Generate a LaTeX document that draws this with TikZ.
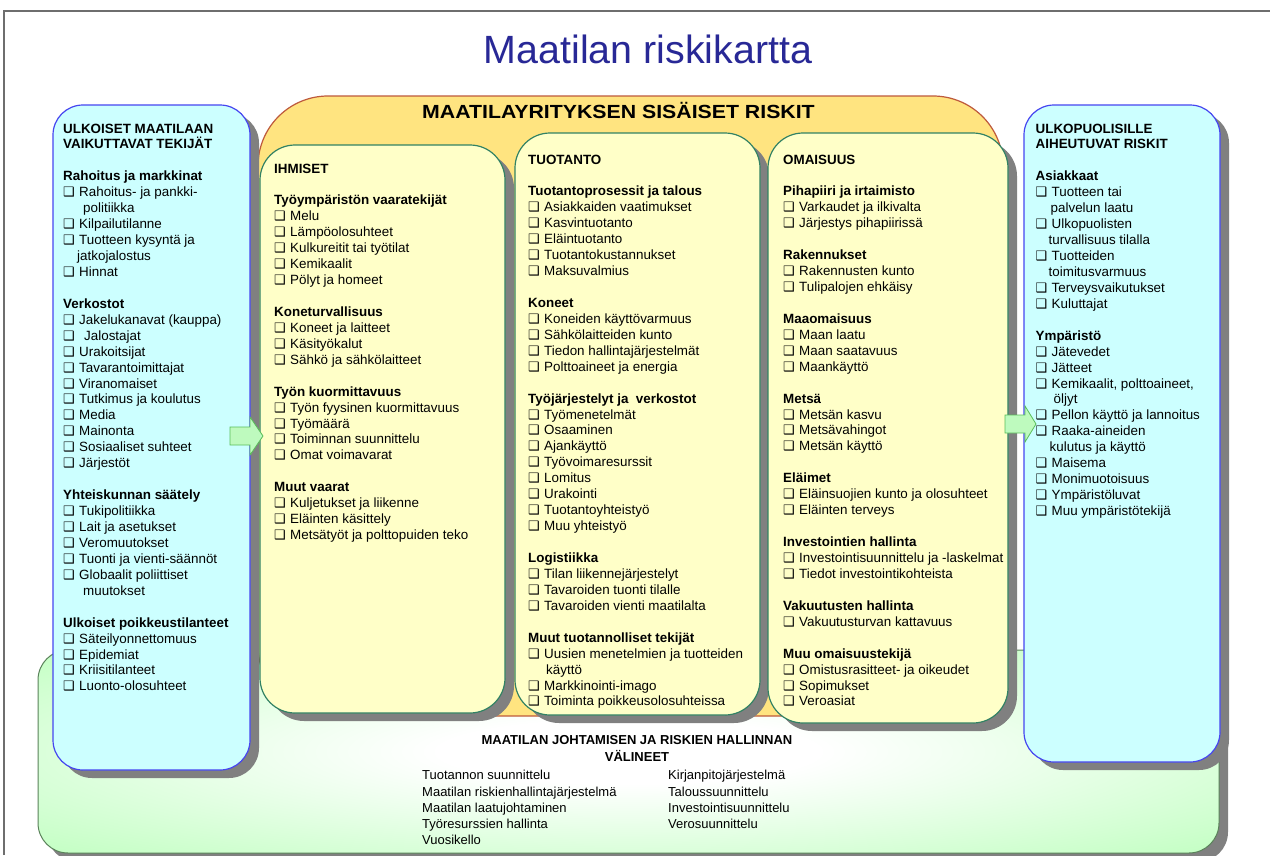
\documentclass[tikz,border=0pt]{standalone}
\usepackage{fontspec}
\usepackage{graphicx}
\setmainfont{Liberation Sans}
\newfontfamily\dejavu{DejaVu Sans}
\definecolor{framegray}{RGB}{110,110,110}
\definecolor{titleblue}{RGB}{40,40,150}
\definecolor{cyanfill}{RGB}{204,255,255}
\definecolor{cyanline}{RGB}{70,70,240}
\definecolor{shadowgray}{RGB}{128,128,128}
\definecolor{orangefill}{RGB}{255,228,128}
\definecolor{orangeline}{RGB}{190,90,60}
\definecolor{yellowfill}{RGB}{255,255,200}
\definecolor{yellowline}{RGB}{50,130,100}
\definecolor{greenfill}{RGB}{185,255,185}
\definecolor{greenline}{RGB}{90,130,90}
\definecolor{arrowfill}{RGB}{190,250,190}
\definecolor{arrowline}{RGB}{90,190,90}
\pgfdeclareradialshading{greenglow}{\pgfpoint{0bp}{0bp}}{color(0bp)=(white); color(8bp)=(white); color(40bp)=(greenfill); color(50bp)=(greenfill)}
\newcommand{\cb}{\makebox[16pt][l]{\dejavu\fontsize{13}{13}\selectfont ❑}}
\newcommand{\hd}[1]{\textbf{#1}}
\newcommand{\ind}[1]{\hspace*{#1pt}}
\newcommand{\fs}{\rule{0pt}{13pt}}
\begin{document}
\begin{tikzpicture}[x=1pt,y=-1pt,
  frameline/.style={draw=framegray, line width=1.6pt},
  shadowshape/.style={fill=shadowgray, draw=none},
  cyanbox/.style={fill=cyanfill, draw=cyanline, line width=1.2pt, rounded corners=30pt},
  yellowbox/.style={fill=yellowfill, draw=yellowline, line width=1.2pt, rounded corners=35pt},
  blockarrow/.style={fill=arrowfill, draw=arrowline, line width=0.8pt},
  txt/.style={anchor=north west, inner sep=0pt, align=left, font=\fontsize{13.4}{15.94}\selectfont},
  btxt/.style={anchor=north west, inner sep=0pt, align=left, font=\fontsize{13}{16.2}\selectfont},
]
\useasboundingbox (0,0) rectangle (1270,855);
\fill[white] (0,0) rectangle (1270,855);
\draw[frameline] (4,855) -- (4,11) -- (1270,11);

% title
\node[anchor=base, inner sep=0pt, text=titleblue, font=\fontsize{39.4}{44}\selectfont] (title) at (648,63) {Maatilan riskikartta};

% bottom green area
\fill[shadowgray, rounded corners=30pt] (47,658) rectangle (1228,862);
\shade[shading=greenglow, draw=greenline, line width=1pt, rounded corners=30pt] (38,650) rectangle (1219,853);

% orange container
\draw[fill=orangefill, draw=orangeline, line width=1.2pt, rounded corners=70pt] (258,96) rectangle (1003,716);
\node[anchor=base west, inner sep=0pt, font=\fontsize{19}{22}\selectfont\bfseries] (inner) at (422,118.5) {\scalebox{1.12}[1]{MAATILAYRITYKSEN SISÄISET RISKIT}};

% cyan boxes
\fill[shadowgray, rounded corners=30pt] (62,113) rectangle (259,778);
\draw[cyanbox] (53,105) rectangle (250,770);
\fill[shadowgray, rounded corners=30pt] (1033,113) rectangle (1229,770);
\draw[cyanbox] (1024,105) rectangle (1220,762);

% yellow boxes
\fill[shadowgray, rounded corners=35pt] (269,153) rectangle (514,721);
\draw[yellowbox] (260,145) rectangle (505,713);
\fill[shadowgray, rounded corners=35pt] (524,141) rectangle (769,723);
\draw[yellowbox] (515,133) rectangle (760,715);
\fill[shadowgray, rounded corners=35pt] (777,141) rectangle (1017,731);
\draw[yellowbox] (768,133) rectangle (1008,723);

% block arrows
\draw[blockarrow] (230,427) -- (250,427) -- (250,417) -- (263,436) -- (250,455) -- (250,445) -- (230,445) -- cycle;
\draw[blockarrow] (1005,415) -- (1025,415) -- (1025,406) -- (1036,424) -- (1025,442) -- (1025,433) -- (1005,433) -- cycle;

% left box text
\node[txt] (ltext) at (63,119.8) {\fs\hd{ULKOISET MAATILAAN}\\
\hd{VAIKUTTAVAT TEKIJÄT}\\[15.94pt]
\hd{Rahoitus ja markkinat}\\
\cb Rahoitus- ja pankki-\\
\ind{20}politiikka\\
\cb Kilpailutilanne\\
\cb Tuotteen kysyntä ja\\
\ind{14}jatkojalostus\\
\cb Hinnat\\[15.94pt]
\hd{Verkostot}\\
\cb Jakelukanavat (kauppa)\\
\cb\ind{5}Jalostajat\\
\cb Urakoitsijat\\
\cb Tavarantoimittajat\\
\cb Viranomaiset\\
\cb Tutkimus ja koulutus\\
\cb Media\\
\cb Mainonta\\
\cb Sosiaaliset suhteet\\
\cb Järjestöt\\[15.94pt]
\hd{Yhteiskunnan säätely}\\
\cb Tukipolitiikka\\
\cb Lait ja asetukset\\
\cb Veromuutokset\\
\cb Tuonti ja vienti-säännöt\\
\cb Globaalit poliittiset\\
\ind{20}muutokset\\[15.94pt]
\hd{Ulkoiset poikkeustilanteet}\\
\cb Säteilyonnettomuus\\
\cb Epidemiat\\
\cb Kriisitilanteet\\
\cb Luonto-olosuhteet};

% IHMISET
\node[txt] (ihmiset) at (274,159.8) {\fs\hd{IHMISET}\\[15.94pt]
\hd{Työympäristön vaaratekijät}\\
\cb Melu\\
\cb Lämpöolosuhteet\\
\cb Kulkureitit tai työtilat\\
\cb Kemikaalit\\
\cb Pölyt ja homeet\\[15.94pt]
\hd{Koneturvallisuus}\\
\cb Koneet ja laitteet\\
\cb Käsityökalut\\
\cb Sähkö ja sähkölaitteet\\[15.94pt]
\hd{Työn kuormittavuus}\\
\cb Työn fyysinen kuormittavuus\\
\cb Työmäärä\\
\cb Toiminnan suunnittelu\\
\cb Omat voimavarat\\[15.94pt]
\hd{Muut vaarat}\\
\cb Kuljetukset ja liikenne\\
\cb Eläinten käsittely\\
\cb Metsätyöt ja polttopuiden teko};

% TUOTANTO
\node[txt] (tuotanto) at (528,150.8) {\fs\hd{TUOTANTO}\\[15.94pt]
\hd{Tuotantoprosessit ja talous}\\
\cb Asiakkaiden vaatimukset\\
\cb Kasvintuotanto\\
\cb Eläintuotanto\\
\cb Tuotantokustannukset\\
\cb Maksuvalmius\\[15.94pt]
\hd{Koneet}\\
\cb Koneiden käyttövarmuus\\
\cb Sähkölaitteiden kunto\\
\cb Tiedon hallintajärjestelmät\\
\cb Polttoaineet ja energia\\[15.94pt]
\hd{Työjärjestelyt ja \ verkostot}\\
\cb Työmenetelmät\\
\cb Osaaminen\\
\cb Ajankäyttö\\
\cb Työvoimaresurssit\\
\cb Lomitus\\
\cb Urakointi\\
\cb Tuotantoyhteistyö\\
\cb Muu yhteistyö\\[15.94pt]
\hd{Logistiikka}\\
\cb Tilan liikennejärjestelyt\\
\cb Tavaroiden tuonti tilalle\\
\cb Tavaroiden vienti maatilalta\\[15.94pt]
\hd{Muut tuotannolliset tekijät}\\
\cb Uusien menetelmien ja tuotteiden\\
\ind{18}käyttö\\
\cb Markkinointi-imago\\
\cb Toiminta poikkeusolosuhteissa};

% OMAISUUS
\node[txt] (omaisuus) at (783,150.8) {\fs\hd{OMAISUUS}\\[15.94pt]
\hd{Pihapiiri ja irtaimisto}\\
\cb Varkaudet ja ilkivalta\\
\cb Järjestys pihapiirissä\\[15.94pt]
\hd{Rakennukset}\\
\cb Rakennusten kunto\\
\cb Tulipalojen ehkäisy\\[15.94pt]
\hd{Maaomaisuus}\\
\cb Maan laatu\\
\cb Maan saatavuus\\
\cb Maankäyttö\\[15.94pt]
\hd{Metsä}\\
\cb Metsän kasvu\\
\cb Metsävahingot\\
\cb Metsän käyttö\\[15.94pt]
\hd{Eläimet}\\
\cb Eläinsuojien kunto ja olosuhteet\\
\cb Eläinten terveys\\[15.94pt]
\hd{Investointien hallinta}\\
\cb Investointisuunnittelu ja -laskelmat\\
\cb Tiedot investointikohteista\\[15.94pt]
\hd{Vakuutusten hallinta}\\
\cb Vakuutusturvan kattavuus\\[15.94pt]
\hd{Muu omaisuustekijä}\\
\cb Omistusrasitteet- ja oikeudet\\
\cb Sopimukset\\
\cb Veroasiat};

% right box text
\node[txt] (rtext) at (1035.5,119.8) {\fs\hd{ULKOPUOLISILLE}\\
\hd{AIHEUTUVAT RISKIT}\\[15.94pt]
\hd{Asiakkaat}\\
\cb Tuotteen tai\\
\ind{15}palvelun laatu\\
\cb Ulkopuolisten\\
\ind{13}turvallisuus tilalla\\
\cb Tuotteiden\\
\ind{13}toimitusvarmuus\\
\cb Terveysvaikutukset\\
\cb Kuluttajat\\[15.94pt]
\hd{Ympäristö}\\
\cb Jätevedet\\
\cb Jätteet\\
\cb Kemikaalit, polttoaineet,\\
\ind{18}öljyt\\
\cb Pellon käyttö ja lannoitus\\
\cb Raaka-aineiden\\
\ind{14}kulutus ja käyttö\\
\cb Maisema\\
\cb Monimuotoisuus\\
\cb Ympäristöluvat\\
\cb Muu ympäristötekijä};

% bottom texts
\node[anchor=north, inner sep=0pt, align=center, font=\fontsize{13}{17}\selectfont\bfseries] (btitle) at (637,731.6) {\fs MAATILAN JOHTAMISEN JA RISKIEN HALLINNAN\\VÄLINEET};
\node[btxt] (bleft) at (422,766.6) {\fs Tuotannon suunnittelu\\
Maatilan riskienhallintajärjestelmä\\
Maatilan laatujohtaminen\\
Työresurssien hallinta\\
Vuosikello};
\node[btxt] (bright) at (668,766.6) {\fs Kirjanpitojärjestelmä\\
Taloussuunnittelu\\
Investointisuunnittelu\\
Verosuunnittelu};
\end{tikzpicture}
\end{document}
